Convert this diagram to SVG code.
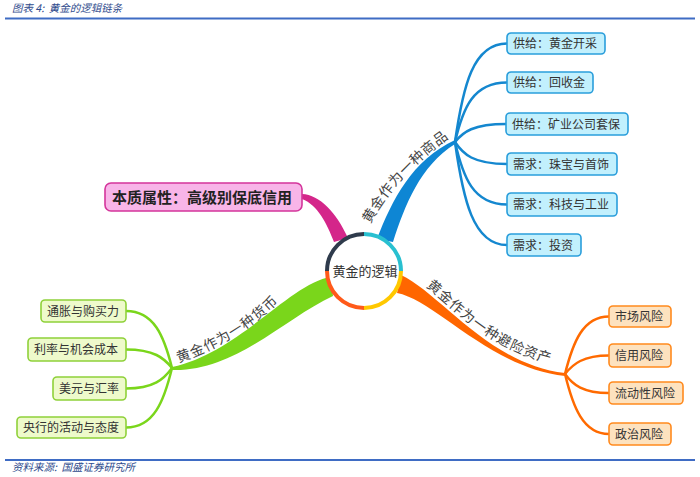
<svg xmlns="http://www.w3.org/2000/svg" width="700" height="477" viewBox="0 0 700 477">
<style>
.cap{font-family:"Noto Sans CJK SC","Liberation Sans",sans-serif;font-size:10.5px;font-style:italic;fill:#2e4a8c;white-space:pre}
.rule{stroke:#3f6cc4;stroke-width:1.8}
.t{font-family:"Noto Sans CJK SC","Noto Sans",sans-serif;font-size:12px;fill:#333}
.lbl{font-family:"Noto Sans CJK SC","Noto Sans",sans-serif;font-size:14px;letter-spacing:0.8px;fill:#444}
.bbox{fill:#c2f0fd;stroke:#2a9edb;stroke-width:1.6}
.obox{fill:#fde2bf;stroke:#ff8a1e;stroke-width:1.6}
.gbox{fill:#eefacb;stroke:#8fd13a;stroke-width:1.6}
.pbox{fill:#f8b5e8;stroke:#d4359b;stroke-width:1.6}
.bl{fill:none;stroke:#1487cf;stroke-width:2.5}
.ol{fill:none;stroke:#ff6a00;stroke-width:2.5}
.gl{fill:none;stroke:#7ad61b;stroke-width:2.5}
.ring{fill:none;stroke-width:4}
</style>
<defs>
<path id="pBlue" d="M370,224 C384,200 404,168 458,132 L476,120"/>
<path id="pOrange" d="M426,286.5 C455,310 490,350 553,364 L575,368"/>
<path id="pGreen" d="M178.7,362.6 C205,354 245,335 279,301.5 L295,288"/>
</defs>

<g id="header">
<text class="cap" x="12" y="12">图表 4:  黄金的逻辑链条</text>
<line class="rule" x1="5" y1="18.5" x2="695" y2="18.5"/>
</g>

<g id="connectors">
<!-- trunks -->
<path fill="#d4268a" d="M302,194 C320,195 336,212 348,238 L334,242 C327,224 318,205 302,199 Z"/>
<path fill="#0e86d4" d="M377,239 C392,200 412,160 455,140 L455,144 C420,166 405,205 393,242 Z"/>
<path fill="#ff6600" d="M401,275 C440,293 490,365 565,373 L565,376 C490,368 435,300 397,293 Z"/>
<path fill="#7ad61b" d="M331,277 C290,283 240,352 172,367 L172,370 C235,372 285,318 333,296 Z"/>
<!-- blue fan -->
<path class="bl" d="M455,142 C463,86 473,43.5 507,43.5"/>
<path class="bl" d="M455,142 C463,108 473,82.5 507,82.5"/>
<path class="bl" d="M455,142 C463,132 473,124 506,124"/>
<path class="bl" d="M455,142 C463,154 473,164 507,164"/>
<path class="bl" d="M455,142 C463,177 473,204.5 507,204.5"/>
<path class="bl" d="M455,142 C463,199 473,245 507,245"/>
<!-- orange fan -->
<path class="ol" d="M565,374 C573,342 583,316.5 609,316.5"/>
<path class="ol" d="M565,374 C573,364 583,355.5 609,355.5"/>
<path class="ol" d="M565,374 C573,385 583,393 609,393"/>
<path class="ol" d="M565,374 C573,407 583,434 609,434"/>
<!-- green fan -->
<path class="gl" d="M172,368 C164,336 154,311 126,311"/>
<path class="gl" d="M172,368 C164,358 154,349.5 126,349.5"/>
<path class="gl" d="M172,368 C164,379 154,388.5 126,388.5"/>
<path class="gl" d="M172,368 C164,401 154,427.5 126,427.5"/>
<!-- trunk labels -->
<text class="lbl"><textPath href="#pBlue">黄金作为一种商品</textPath></text>
<text class="lbl"><textPath href="#pOrange">黄金作为一种避险资产</textPath></text>
<text class="lbl"><textPath href="#pGreen">黄金作为一种货币</textPath></text>
</g>

<g id="center">
<circle cx="364" cy="271" r="37" fill="#fff"/>
<path class="ring" stroke="#2f3b4c" d="M327,271 A37,37 0 0 1 364,234"/>
<path class="ring" stroke="#29c0d0" d="M364,234 A37,37 0 0 1 401,271"/>
<path class="ring" stroke="#ffc800" d="M401,271 A37,37 0 0 1 364,308"/>
<path class="ring" stroke="#ff5a1a" d="M364,308 A37,37 0 0 1 327,271"/>
<text x="365" y="276" text-anchor="middle" style="font-family:'Noto Sans CJK SC','Noto Sans',sans-serif;font-size:13px;fill:#333">黄金的逻辑</text>
</g>

<g id="essence">
<rect class="pbox" x="105" y="183" width="197" height="28" rx="6"/>
<text x="112" y="202.5" style="font-family:'Noto Sans CJK SC','Noto Sans',sans-serif;font-size:15px;font-weight:bold;fill:#222">本质属性：高级别保底信用</text>
</g>

<g id="supply-mining"><rect class="bbox" x="507" y="33" width="98" height="21" rx="4"/><text class="t" x="513" y="48">供给：黄金开采</text></g>
<g id="supply-recycle"><rect class="bbox" x="507" y="72" width="86" height="21" rx="4"/><text class="t" x="513" y="87">供给：回收金</text></g>
<g id="supply-hedge"><rect class="bbox" x="506" y="113" width="122" height="22" rx="4"/><text class="t" x="512" y="128.5">供给：矿业公司套保</text></g>
<g id="demand-jewelry"><rect class="bbox" x="507" y="153" width="110" height="22" rx="4"/><text class="t" x="513" y="168.5">需求：珠宝与首饰</text></g>
<g id="demand-tech"><rect class="bbox" x="507" y="193" width="110" height="23" rx="4"/><text class="t" x="513" y="209">需求：科技与工业</text></g>
<g id="demand-invest"><rect class="bbox" x="507" y="234" width="74" height="22" rx="4"/><text class="t" x="513" y="249.5">需求：投资</text></g>

<g id="risk-market"><rect class="obox" x="609" y="306" width="62" height="21" rx="4"/><text class="t" x="615" y="321">市场风险</text></g>
<g id="risk-credit"><rect class="obox" x="609" y="344" width="62" height="23" rx="4"/><text class="t" x="615" y="360">信用风险</text></g>
<g id="risk-liquidity"><rect class="obox" x="609" y="382" width="74" height="22" rx="4"/><text class="t" x="615" y="397.5">流动性风险</text></g>
<g id="risk-political"><rect class="obox" x="609" y="423" width="62" height="22" rx="4"/><text class="t" x="615" y="438.5">政治风险</text></g>

<g id="money-inflation"><rect class="gbox" x="41" y="300" width="85" height="22" rx="4"/><text class="t" x="47" y="315.5">通胀与购买力</text></g>
<g id="money-rate"><rect class="gbox" x="28" y="338" width="98" height="23" rx="4"/><text class="t" x="34" y="354">利率与机会成本</text></g>
<g id="money-usd"><rect class="gbox" x="53" y="377" width="73" height="23" rx="4"/><text class="t" x="59" y="393">美元与汇率</text></g>
<g id="money-cb"><rect class="gbox" x="17" y="417" width="109" height="21" rx="4"/><text class="t" x="23" y="432">央行的活动与态度</text></g>

<g id="footer">
<line class="rule" x1="5" y1="460" x2="695" y2="460"/>
<text class="cap" x="12" y="471">资料来源:  国盛证券研究所</text>
</g>
</svg>
